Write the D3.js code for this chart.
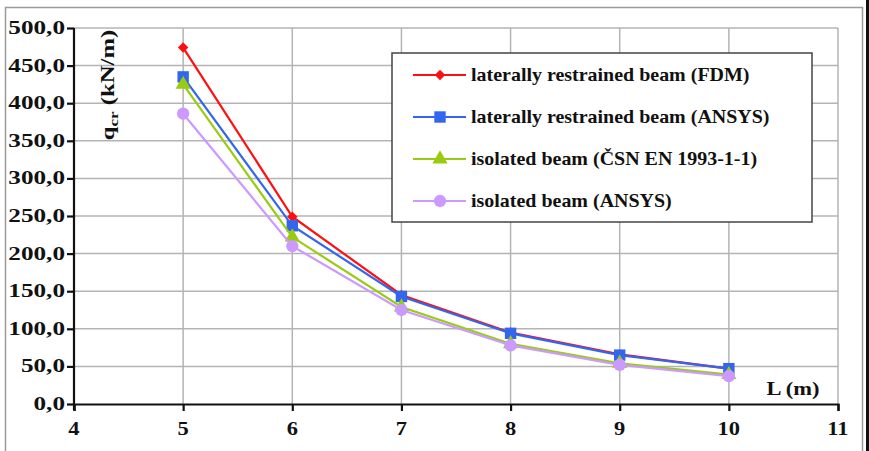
<!DOCTYPE html>
<html>
<head>
<meta charset="utf-8">
<script src="https://cdn.jsdelivr.net/npm/d3@7"></script>
<style>
  body { margin: 0; background: #fff; }
</style>
</head>
<body>
<svg id="chart" width="869" height="451"></svg>
<script>
// span lengths L (m)
var spans = [5, 6, 7, 8, 9, 10];

// critical load q_cr (kN/m)
var fdmRestrained   = [474, 249, 145, 95, 66, 47];
var ansysRestrained = [435, 237, 143, 94, 65, 47];
var csnIsolated     = [425, 222, 129, 80, 54, 39];
var ansysIsolated   = [386, 210, 125, 78, 52, 37];

var seriesNames = [
  "laterally restrained beam (FDM)",
  "laterally restrained beam (ANSYS)",
  "isolated beam (ČSN EN 1993-1-1)",
  "isolated beam (ANSYS)"
];

var xTicks = [4, 5, 6, 7, 8, 9, 10, 11];
var yTicks = [0, 50, 100, 150, 200, 250, 300, 350, 400, 450, 500];

var series = [
  {name: seriesNames[0], values: fdmRestrained,   color: "#ff1010", shape: d3.symbolDiamond2, size: 70},
  {name: seriesNames[1], values: ansysRestrained, color: "#3366ee", shape: d3.symbolSquare,   size: 130},
  {name: seriesNames[2], values: csnIsolated,     color: "#99cc11", shape: d3.symbolTriangle, size: 100},
  {name: seriesNames[3], values: ansysIsolated,   color: "#cc99ff", shape: d3.symbolCircle,   size: 120}
];

var svg = d3.select("#chart");
var FONT = "'Liberation Serif', 'Times New Roman', Times, serif";
var fs = 18;

var x = d3.scaleLinear().domain([4, 11]).range([74, 838]);
var y = d3.scaleLinear().domain([0, 500]).range([404, 28]);

// stretched text helper (the picture is widened sideways a bit)
function label(txt, px, py, anchor, sx) {
  return svg.append("text")
    .attr("transform", "translate(" + px + "," + py + ") scale(" + sx + ",1)")
    .attr("text-anchor", anchor || "start")
    .attr("font-family", FONT)
    .attr("font-weight", "bold")
    .attr("fill", "#111")
    .attr("font-size", fs)
    .text(txt);
}

// frame
svg.append("rect").attr("x", 5.5).attr("y", 7.5).attr("width", 857).attr("height", 460)
  .attr("fill", "none").attr("stroke", "#9a9a9a").attr("stroke-width", 1.5);
svg.append("rect").attr("x", 866).attr("y", 0).attr("width", 3).attr("height", 451).attr("fill", "#111");

// grid
svg.append("g").selectAll("line").data(yTicks.filter(function(d){ return d > 0; }))
  .enter().append("line")
  .attr("x1", x(4)).attr("x2", x(11))
  .attr("y1", function(d){ return y(d); }).attr("y2", function(d){ return y(d); })
  .attr("stroke", "#b4b4b4").attr("stroke-width", 1.5);
svg.append("g").selectAll("line").data(xTicks.filter(function(d){ return d > 4; }))
  .enter().append("line")
  .attr("y1", y(0)).attr("y2", y(500))
  .attr("x1", function(d){ return x(d); }).attr("x2", function(d){ return x(d); })
  .attr("stroke", "#b4b4b4").attr("stroke-width", 1.5);

// axes
var yAxis = svg.append("g").attr("transform", "translate(" + x(4) + ",0)")
  .call(d3.axisLeft(y).tickValues(yTicks).tickSize(7).tickFormat(""));
var xAxis = svg.append("g").attr("transform", "translate(0," + y(0) + ")")
  .call(d3.axisBottom(x).tickValues(xTicks).tickSize(7).tickFormat(""));
[xAxis, yAxis].forEach(function(a){
  a.selectAll("path, line").attr("stroke", "#111").attr("stroke-width", 2.2);
});
yAxis.select("path").attr("d", "M0," + y(500) + "V" + (y(0) + 6));

var fmt = function(d){ return d3.format(".1f")(d).replace(".", ","); };
yTicks.forEach(function(t){
  label(fmt(t), 65, y(t) + 6, "end", 1.4);
});
xTicks.forEach(function(t){
  label(String(t), x(t), 435, "middle", 1.25);
});

// axis titles
var yt = svg.append("text")
  .attr("transform", "translate(114,85) rotate(-90) scale(1.3,1)")
  .attr("text-anchor", "middle")
  .attr("font-family", FONT)
  .attr("font-weight", "bold")
  .attr("fill", "#111")
  .attr("font-size", 19);
yt.append("tspan").text("q");
yt.append("tspan").attr("dy", 4).attr("font-size", 13).text("cr");
yt.append("tspan").attr("dy", -4).text(" (kN/m)");

label("L (m)", 793, 395, "middle", 1.25);

// lines + markers
var line = d3.line()
  .x(function(d, i){ return x(spans[i]); })
  .y(function(d){ return y(d); });

series.forEach(function(s){
  svg.append("path").datum(s.values)
    .attr("d", line).attr("fill", "none")
    .attr("stroke", s.color).attr("stroke-width", 2.2);
  svg.append("g").selectAll("path").data(s.values).enter().append("path")
    .attr("d", d3.symbol().type(s.shape).size(s.size))
    .attr("transform", function(d, i){ return "translate(" + x(spans[i]) + "," + y(d) + ")"; })
    .attr("fill", s.color);
});

// legend
var lg = svg.append("g");
lg.append("rect").attr("x", 392).attr("y", 53).attr("width", 420).attr("height", 169)
  .attr("fill", "#fff").attr("stroke", "#444").attr("stroke-width", 1.5);
series.forEach(function(s, i){
  var ry = 75 + i * 42;
  lg.append("line").attr("x1", 413).attr("x2", 466).attr("y1", ry).attr("y2", ry)
    .attr("stroke", s.color).attr("stroke-width", 2.2);
  lg.append("path").attr("d", d3.symbol().type(s.shape).size(s.size))
    .attr("transform", "translate(440," + ry + ")").attr("fill", s.color);
  label(s.name, 471, ry + 6, "start", 1.11);
});
</script>
</body>
</html>
